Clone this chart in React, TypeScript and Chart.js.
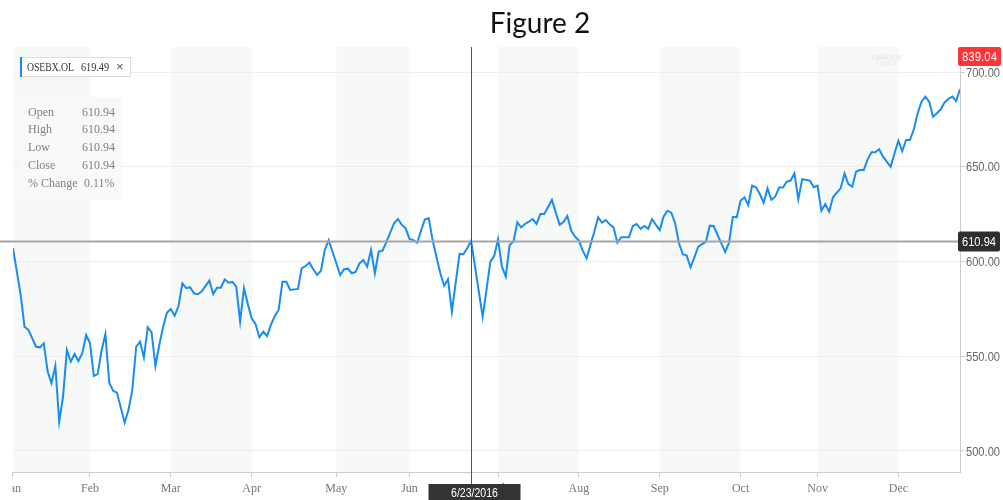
import React, { useEffect, useRef } from "react";
import { Chart, registerables } from "chart.js";

Chart.register(...registerables);

// ---- data ----
const tradingDay = [
  0, 2, 3, 4, 6, 7, 8, 9, 10, 11, 12, 13, 14, 15, 16, 17, 18, 19, 20, 21, 22, 23, 24, 25, 26, 27, 29, 30, 31, 32,
  33, 34, 35, 36, 37, 38, 39, 40, 41, 42, 43, 44, 45, 46, 47, 48, 49, 51, 52, 53, 54, 55, 56, 57, 58, 59, 60, 61,
  62, 63, 64, 65, 66, 67, 68, 69, 70, 71, 72, 74, 75, 76, 77, 78, 79, 80, 81, 82, 85, 86, 87, 88, 89, 90, 91, 92,
  93, 94, 95, 96, 97, 99, 100, 101, 102, 103, 104, 105, 106, 107, 108, 109, 110, 111, 112, 113, 114, 115, 116, 117,
  118, 119, 122, 123, 124, 125, 126, 127, 128, 129, 130, 131, 132, 133, 134, 135, 136, 137, 138, 140, 141, 142, 143,
  144, 145, 146, 147, 148, 149, 150, 151, 152, 153, 154, 155, 156, 157, 158, 160, 161, 162, 163, 164, 165, 166, 167,
  168, 169, 170, 171, 172, 173, 174, 175, 176, 177, 178, 179, 180, 181, 182, 184, 185, 186, 187, 188, 189, 190, 191,
  192, 193, 194, 195, 196, 197, 198, 199, 200, 201, 202, 203, 204, 205, 207, 208, 209, 210, 211, 212, 213, 214, 215,
  216, 217, 218, 219, 220, 221, 222, 223, 224, 225, 226, 228, 229, 230, 231, 232, 233, 234, 235, 236, 237, 238, 239,
  240, 241, 242, 243, 244, 245, 246,
];

const closeValue = [
  607.0, 582.3, 565.6, 563.9, 555.0, 554.7, 556.8, 541.9, 535.7, 544.9, 515.5, 528.7, 553.3, 547.1, 551.2, 547.5,
  551.6, 561.2, 556.8, 539.6, 540.6, 552.9, 561.7, 536.0, 531.8, 530.8, 515.0, 521.6, 532.2, 555.0,
  557.7, 549.2, 565.3, 562.6, 544.9, 555.9, 565.6, 573.0, 574.9, 571.4, 576.5, 588.5, 585.9, 586.4, 583.2, 582.7,
  584.1, 589.9, 582.8, 586.2, 586.2, 590.6, 588.8, 589.2, 586.7, 568.3, 585.9, 577.6,
  570.0, 567.0, 560.0, 563.0, 560.7, 566.5, 571.2, 574.4, 589.3, 589.3, 585.0, 585.5, 596.4, 597.6, 599.4, 595.9,
  592.9, 595.1, 606.1, 611.3, 592.9, 595.9, 596.2, 593.8, 594.5, 599.0, 600.8, 597.3,
  606.1, 593.8, 605.2, 605.7, 610.4, 620.2, 622.4, 619.3, 617.5, 611.9, 611.3, 609.9, 616.3, 622.3, 622.8, 611.3,
  602.5, 593.8, 587.3, 590.6, 573.5, 588.8, 604.0, 603.8,
  607.0, 610.94, 570.9, 585.0, 599.9, 602.9, 611.7, 597.3, 592.0, 608.7, 610.4, 620.7, 618.0, 619.8, 621.0, 622.4,
  619.8, 625.1, 625.1, 632.5, 625.8, 619.3, 620.8,
  624.0, 616.3, 613.1, 611.0, 605.7, 601.7, 608.7, 615.7, 623.3, 620.5, 621.9, 619.6, 618.0, 609.9, 612.8, 612.8,
  618.7, 619.8, 617.2, 618.7, 617.2, 622.4, 619.3,
  616.6, 623.6, 626.8, 625.8, 620.2, 609.6, 603.8, 603.1, 596.9, 602.2, 607.8, 609.2, 610.4, 618.9, 618.7, 609.6,
  605.0, 609.9, 623.6, 623.3, 632.1, 633.9, 629.8,
  640.0, 639.2, 635.6, 631.0, 638.6, 632.5, 634.2, 639.0, 639.0, 642.1, 642.7, 646.5, 632.8, 643.4, 642.7, 639.2,
  640.0, 626.8, 630.3, 626.3, 633.9, 636.3, 638.6,
  646.5, 640.9, 639.5, 647.4, 648.3, 648.3, 653.9, 657.6, 657.6, 659.2, 655.3, 650.0, 657.1, 663.7, 658.3, 664.1,
  664.1, 669.8, 678.2, 684.3, 687.0, 684.3, 676.4,
  678.2, 680.3, 684.0, 685.8, 687.0, 684.7, 690.9,
];

const monthLabels = ["Jan", "Feb", "Mar", "Apr", "May", "Jun", "Jul", "Aug", "Sep", "Oct", "Nov", "Dec"];
const monthStartDay = [0, 20, 41, 62, 84, 103, 126, 147, 168, 189, 209, 230];
const shadedMonthIndex = [0, 2, 4, 6, 8, 10];
const lastTradingDay = 246;
const yTickValues = [500, 550, 600, 650, 700];
const yMin = 488.9;
const yMax = 713.2;

const crosshairDay = 119;
const crosshairValue = 610.94;
const crosshairDate = "6/23/2016";
const lastQuoteLabel = "839.04";
const symbolName = "OSEBX.OL";
const symbolValue = "619.49";
const infoLabels = ["Open", "High", "Low", "Close", "% Change"];
const infoValues = ["610.94", "610.94", "610.94", "610.94", "0.11%"];
const titleText = "Figure 2";

const LINE_COLOR = "#1a8cf0";
const SERIF = '"Liberation Serif", "Times New Roman", serif';
const SANS = '"Liberation Sans", Arial, sans-serif';

function roundRect(ctx: CanvasRenderingContext2D, x: number, y: number, w: number, h: number, r: number) {
  ctx.beginPath();
  ctx.moveTo(x + r, y);
  ctx.lineTo(x + w - r, y);
  ctx.quadraticCurveTo(x + w, y, x + w, y + r);
  ctx.lineTo(x + w, y + h - r);
  ctx.quadraticCurveTo(x + w, y + h, x + w - r, y + h);
  ctx.lineTo(x + r, y + h);
  ctx.quadraticCurveTo(x, y + h, x, y + h - r);
  ctx.lineTo(x, y + r);
  ctx.quadraticCurveTo(x, y, x + r, y);
  ctx.closePath();
}

const bandsPlugin = {
  id: "monthBands",
  beforeDraw(chart: any) {
    const { ctx, chartArea, scales } = chart;
    const xs = scales.x;
    ctx.save();
    ctx.fillStyle = "#f7f9f9";
    shadedMonthIndex.forEach((m) => {
      const start = monthStartDay[m];
      const end = m + 1 < monthStartDay.length ? monthStartDay[m + 1] : lastTradingDay;
      const x0 = xs.getPixelForValue(start);
      const x1 = xs.getPixelForValue(end);
      ctx.fillRect(x0, chartArea.top, x1 - x0, chartArea.bottom - chartArea.top);
    });
    ctx.restore();
  },
};

const overlayPlugin = {
  id: "overlay",
  afterDraw(chart: any) {
    const { ctx, chartArea, scales } = chart;
    const xs = scales.x;
    const ys = scales.y;
    ctx.save();

    // clip the first month label at the left edge
    ctx.fillStyle = "#ffffff";
    ctx.fillRect(0, chartArea.bottom + 1, chartArea.left - 1, 40);

    // right axis labels (narrow)
    ctx.fillStyle = "#666666";
    ctx.font = `13px ${SANS}`;
    ctx.textAlign = "left";
    ctx.textBaseline = "middle";
    yTickValues.forEach((v) => {
      ctx.fillText(v.toFixed(2), chartArea.right + 6, ys.getPixelForValue(v) + 1, 34);
    });

    // watermark
    ctx.fillStyle = "#e6e8e8";
    ctx.font = "bold 8px Arial, sans-serif";
    ctx.textAlign = "center";
    ctx.fillText("YAHOO!", 886, 58);
    ctx.font = "5px Arial, sans-serif";
    ctx.fillText("FINANCE", 886, 64);

    // horizontal crosshair
    const cy = Math.round(ys.getPixelForValue(crosshairValue)) + 0.5;
    ctx.strokeStyle = "#a6a6a6";
    ctx.lineWidth = 2;
    ctx.beginPath();
    ctx.moveTo(0, cy);
    ctx.lineTo(chartArea.right, cy);
    ctx.stroke();

    // vertical crosshair
    const cx = Math.round(xs.getPixelForValue(crosshairDay)) + 0.5;
    ctx.strokeStyle = "#555555";
    ctx.lineWidth = 1;
    ctx.beginPath();
    ctx.moveTo(cx, chartArea.top);
    ctx.lineTo(cx, chartArea.bottom + 12);
    ctx.stroke();

    // date box
    ctx.fillStyle = "#333333";
    ctx.fillRect(cx - 43, chartArea.bottom + 12, 92, 20);
    ctx.fillStyle = "#ffffff";
    ctx.font = `13px ${SANS}`;
    ctx.textAlign = "center";
    ctx.fillText(crosshairDate, cx + 3, chartArea.bottom + 21, 47);

    // right value boxes
    const bx = chartArea.right - 2;
    ctx.fillStyle = "#ff3338";
    roundRect(ctx, bx, chartArea.top, 43, 19, 2);
    ctx.fill();
    ctx.fillStyle = "#ffffff";
    ctx.font = `13px ${SANS}`;
    ctx.fillText(lastQuoteLabel, bx + 21.5, chartArea.top + 10, 35);

    ctx.fillStyle = "#2e2e2e";
    roundRect(ctx, bx, cy - 10, 42, 20, 2);
    ctx.fill();
    ctx.fillStyle = "#ffffff";
    ctx.font = `13px ${SANS}`;
    ctx.fillText(crosshairValue.toFixed(2), bx + 21, cy + 0.5, 34);

    // legend box
    const lx = chartArea.left + 7;
    const ly = chartArea.top + 10;
    ctx.fillStyle = "#ffffff";
    ctx.fillRect(lx, ly, 110, 19);
    ctx.strokeStyle = "#dcdcdc";
    ctx.lineWidth = 1;
    ctx.strokeRect(lx + 0.5, ly + 0.5, 110, 19);
    ctx.fillStyle = LINE_COLOR;
    ctx.fillRect(lx, ly, 2, 20);
    ctx.textAlign = "left";
    ctx.fillStyle = "#333333";
    ctx.font = `12px ${SERIF}`;
    ctx.fillText(symbolName, lx + 7, ly + 10.5, 47);
    ctx.fillText(symbolValue, lx + 61, ly + 10.5, 28);
    ctx.fillStyle = "#555555";
    ctx.font = "13px Arial, sans-serif";
    ctx.fillText("\u00d7", lx + 96, ly + 10.5);

    // info box
    const ix = lx;
    const iy = chartArea.top + 50;
    ctx.fillStyle = "rgba(248,250,250,0.95)";
    roundRect(ctx, ix, iy, 102, 103, 3);
    ctx.fill();
    ctx.font = `12px ${SERIF}`;
    ctx.fillStyle = "#808080";
    infoLabels.forEach((lab, i) => {
      const ry = iy + 15.5 + i * 17.8;
      ctx.fillText(lab, ix + 8, ry);
      ctx.fillText(infoValues[i], ix + (i === 4 ? 64 : 62), ry);
    });

    // title
    ctx.fillStyle = "#111111";
    ctx.font = '28px Lato, "Open Sans", sans-serif';
    ctx.textAlign = "center";
    ctx.fillText(titleText, 540, 24);

    ctx.restore();
  },
};

export default function App() {
  const canvasRef = useRef<HTMLCanvasElement | null>(null);

  useEffect(() => {
    if (!canvasRef.current) return;
    const points = tradingDay.map((d, i) => ({ x: d, y: closeValue[i] }));
    const chart = new Chart(canvasRef.current, {
      type: "line",
      data: {
        datasets: [
          {
            label: symbolName,
            data: points,
            borderColor: LINE_COLOR,
            borderWidth: 2,
            pointRadius: 0,
            tension: 0,
            fill: false,
          },
        ],
      },
      options: {
        responsive: true,
        maintainAspectRatio: false,
        animation: false,
        devicePixelRatio: 1,
        events: [],
        layout: { padding: { top: 47, left: 11, right: 0, bottom: 0 } },
        plugins: { legend: { display: false }, tooltip: { enabled: false }, title: { display: false } },
        scales: {
          x: {
            type: "linear",
            min: 0,
            max: lastTradingDay,
            afterBuildTicks: (s: any) => {
              s.ticks = monthStartDay.map((v) => ({ value: v }));
            },
            afterFit: (s: any) => {
              s.height = 28;
            },
            ticks: {
              autoSkip: false,
              maxRotation: 0,
              padding: 5,
              color: "#777777",
              font: { family: SERIF, size: 12 },
              callback: (v: any) => {
                const k = monthStartDay.indexOf(Number(v));
                return k >= 0 ? monthLabels[k] : "";
              },
            },
            grid: { drawOnChartArea: false, tickLength: 5, tickColor: "#cccccc", color: "#cccccc" },
            border: { color: "#cccccc" },
          },
          y: {
            type: "linear",
            position: "right",
            min: yMin,
            max: yMax,
            afterBuildTicks: (s: any) => {
              s.ticks = yTickValues.map((v) => ({ value: v }));
            },
            afterFit: (s: any) => {
              s.width = 43;
            },
            ticks: {
              display: false,
            },
            grid: { color: "#eeeeee", tickColor: "#cccccc", tickLength: 5 },
            border: { color: "#cccccc" },
          },
        },
      },
      plugins: [bandsPlugin, overlayPlugin],
    });
    return () => chart.destroy();
  }, []);

  return (
    <div style={{ position: "fixed", left: 0, top: 0, width: 1003, height: 500, background: "#ffffff" }}>
      <canvas ref={canvasRef} />
    </div>
  );
}
